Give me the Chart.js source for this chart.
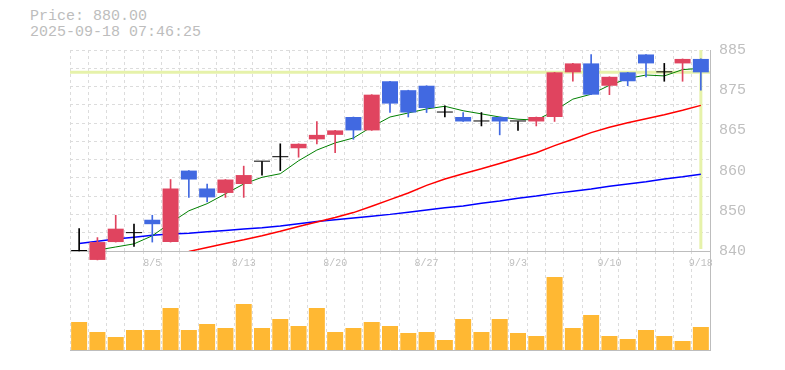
<!DOCTYPE html>
<html>
<head>
<meta charset="utf-8">
<script src="https://cdn.jsdelivr.net/npm/chart.js@4/dist/chart.umd.min.js"></script>
<style>
  html, body { margin: 0; padding: 0; background: #fff; }
  #wrap { position: relative; width: 785px; height: 370px; }
  #info { position: absolute; left: 30px; top: 9px; font: 15px "Liberation Mono", monospace; color: #bdbdbd; line-height: 16px; white-space: pre; }
  #priceChart { position: absolute; left: 0; top: 0; z-index: 2; }
  #volumeChart { position: absolute; left: 0; top: 251px; z-index: 1; }
</style>
</head>
<body>
<div id="wrap">
  <div id="info">Price: 880.00
2025-09-18 07:46:25</div>
  <canvas id="volumeChart" width="785" height="119"></canvas>
  <canvas id="priceChart" width="785" height="270"></canvas>
</div>
<script>
// daily candles (7/30 - 9/18)
var dates = ['7/30', '7/31', '8/1', '8/4', '8/5', '8/6', '8/7', '8/8', '8/12', '8/13',
             '8/14', '8/15', '8/18', '8/19', '8/20', '8/21', '8/22', '8/25', '8/26', '8/27',
             '8/28', '8/29', '9/1', '9/2', '9/3', '9/4', '9/5', '9/8', '9/9', '9/10',
             '9/11', '9/12', '9/16', '9/17', '9/18'];
var dateLabels = ['8/5', '8/13', '8/20', '8/27', '9/3', '9/10', '9/18'];

var opens  = [840, 838, 842, 844, 847, 842, 858, 854, 853, 855, 860, 861, 863, 865, 866, 870, 867, 878, 876, 877,
              871, 870, 869, 870, 869, 869, 870, 880, 882, 877, 880, 884, 880, 882, 883];
var highs  = [845, 843, 848, 846, 848, 856, 858, 855, 856, 859, 860, 864, 864, 869, 867, 870, 875, 878, 876, 877,
              872.5, 871, 871, 870, 869, 870, 880, 882, 884, 879, 880, 884, 882, 883, 883];
var lows   = [840, 838, 842, 841, 842, 842, 852, 851, 852, 852, 857, 858, 861, 864, 862, 865, 867, 871, 870, 871,
              870, 869, 868, 866, 867, 868, 869, 878, 875, 875, 877, 879, 878, 878, 876];
var closes = [840, 842, 845, 844, 846, 854, 856, 852, 856, 857, 860, 861, 864, 866, 867, 867, 875, 873, 871, 872,
              871, 869, 869, 869, 869, 870, 880, 882, 875, 879, 878, 882, 880, 883, 880];

// moving averages
var ma5  = [null, 840.2, 840.9, 841.6, 843.4, 846.3, 849.0, 850.6, 852.8, 855.0, 856.5, 857.3, 860.2, 862.6, 864.2,
            865.3, 867.8, 870.0, 870.9, 871.8, 872.4, 871.4, 870.7, 870.0, 869.5, 869.3, 871.4, 874.0, 875.1, 877.1,
            878.6, 879.4, 879.2, 880.6, 880.9];
var ma25 = [null, null, null, null, null, null, 839.9, 840.8, 841.7, 842.5, 843.4, 844.4, 845.5, 846.5, 847.5,
            848.6, 850.0, 851.5, 853.0, 854.7, 856.1, 857.3, 858.4, 859.6, 860.8, 862.0, 863.6, 865.0, 866.5, 867.7,
            868.7, 869.6, 870.5, 871.5, 872.6];
var ma75 = [841.7, 842.2, 842.7, 843.1, 843.5, 843.8, 844.0, 844.3, 844.6, 844.9, 845.2, 845.6, 846.1, 846.6, 847.0,
            847.4, 847.8, 848.2, 848.7, 849.2, 849.7, 850.1, 850.7, 851.2, 851.8, 852.3, 852.9, 853.4, 853.9, 854.5,
            855.0, 855.5, 856.1, 856.6, 857.2];

var volumes = [280, 180, 130, 200, 200, 420, 200, 260, 220, 460, 220, 310, 240, 420, 180, 220, 280, 240, 170, 180,
               100, 310, 180, 310, 170, 140, 730, 220, 350, 140, 110, 200, 140, 90, 230];
var volumeMax = 990;

var priceMin = 840, priceMax = 885;
var priceTicks = [840, 849, 858, 867, 876, 885];
var priceTickLabels = ['840', '850', '860', '865', '875', '885'];
var lastPrice = 880;

var UP = '#e0445f', DOWN = '#4169e1', FLAT = '#000000';
var GRID = '#dcdcdc', AXIS = '#bdbdbd', LABEL = '#bfbfbf';
var MONO = '"Liberation Mono", "DejaVu Sans Mono", monospace';

function candleColor(i) {
    if (closes[i] > opens[i]) return UP;
    if (closes[i] < opens[i]) return DOWN;
    return FLAT;
}
var colors = dates.map(function(d, i) { return candleColor(i); });

// yellow crosshair on last price / last day, behind the candles
var crosshair = {
    id: 'crosshair',
    beforeDatasetsDraw: function(chart) {
        var ctx = chart.ctx, area = chart.chartArea;
        var y = chart.scales.y.getPixelForValue(lastPrice);
        var x = chart.scales.x.getPixelForValue(dates.length - 1);
        ctx.save();
        ctx.strokeStyle = '#e6f2aa';
        ctx.lineWidth = 3;
        ctx.beginPath();
        ctx.moveTo(area.left, y);
        ctx.lineTo(area.right, y);
        ctx.moveTo(x, area.top);
        ctx.lineTo(x, area.bottom - 2);
        ctx.stroke();
        ctx.restore();
    }
};

new Chart(document.getElementById('priceChart'), {
    type: 'bar',
    data: {
        labels: dates,
        datasets: [
            {
                type: 'bar',
                data: opens.map(function(o, i) { return [o, closes[i]]; }),
                backgroundColor: colors,
                barPercentage: 0.875,
                categoryPercentage: 1,
                minBarLength: 1,
                grouped: false,
                clip: false,
                order: 0
            },
            {
                type: 'bar',
                data: lows.map(function(l, i) { return [l, highs[i]]; }),
                backgroundColor: colors,
                barThickness: 1,
                grouped: false,
                clip: false,
                order: 1
            },
            { type: 'line', data: ma5, borderColor: 'green', borderWidth: 1, pointRadius: 0, tension: 0, order: 2 },
            { type: 'line', data: ma25, borderColor: 'red', borderWidth: 1.5, pointRadius: 0, tension: 0, order: 3 },
            { type: 'line', data: ma75, borderColor: 'blue', borderWidth: 1.5, pointRadius: 0, tension: 0, order: 4 }
        ]
    },
    options: {
        responsive: false,
        animation: false,
        layout: { padding: { left: 70, top: 50, right: 0, bottom: 0 } },
        plugins: { legend: { display: false }, tooltip: { enabled: false } },
        scales: {
            x: {
                type: 'category',
                offset: true,
                grid: { offset: true, color: GRID, drawTicks: false },
                border: { display: true, color: AXIS, dash: [3, 3] },
                ticks: {
                    autoSkip: false,
                    maxRotation: 0,
                    padding: 6,
                    color: LABEL,
                    font: { family: MONO, size: 10 },
                    callback: function(value, index) {
                        return dateLabels.indexOf(dates[index]) >= 0 ? dates[index] : '';
                    }
                },
                afterFit: function(scale) { scale.height = 19; }
            },
            y: {
                position: 'right',
                min: priceMin,
                max: priceMax,
                afterBuildTicks: function(scale) {
                    scale.ticks = priceTicks.map(function(v) { return { value: v }; });
                },
                grid: { display: false, drawTicks: false },
                border: { display: true, color: AXIS },
                ticks: {
                    padding: 9,
                    color: LABEL,
                    font: { family: MONO, size: 15 },
                    callback: function(value, index) { return priceTickLabels[index]; }
                },
                afterFit: function(scale) { scale.width = 75; }
            },
            // horizontal dashed grid (11 rows)
            grid: {
                type: 'linear',
                position: 'left',
                min: 0,
                max: 11,
                ticks: { display: false, stepSize: 1 },
                grid: { color: GRID, drawTicks: false },
                border: { display: false, dash: [3, 3] },
                afterFit: function(scale) { scale.width = 0; }
            }
        }
    },
    plugins: [crosshair]
});

new Chart(document.getElementById('volumeChart'), {
    type: 'bar',
    data: {
        labels: dates,
        datasets: [{
            data: volumes,
            backgroundColor: '#ffb833',
            barPercentage: 0.875,
            categoryPercentage: 1
        }]
    },
    options: {
        responsive: false,
        animation: false,
        layout: { padding: { left: 70, top: 0, right: 0, bottom: 20 } },
        plugins: { legend: { display: false }, tooltip: { enabled: false } },
        scales: {
            x: {
                offset: true,
                grid: { offset: true, color: GRID, drawTicks: false },
                border: { display: true, color: AXIS, dash: [3, 3] },
                ticks: { display: false },
                afterFit: function(scale) { scale.height = 0; }
            },
            y: {
                position: 'right',
                min: 0,
                max: volumeMax,
                grid: { display: false },
                border: { display: true, color: AXIS },
                ticks: { display: false },
                afterFit: function(scale) { scale.width = 75; }
            }
        }
    }
});
</script>
</body>
</html>
